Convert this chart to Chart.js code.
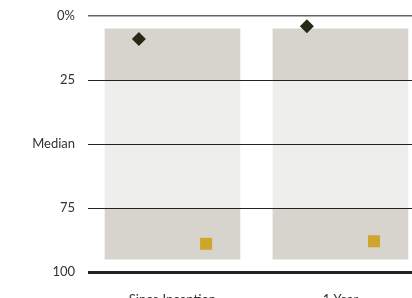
<!DOCTYPE html>
<html>
<head>
<meta charset="utf-8">
<script src="https://cdn.jsdelivr.net/npm/chart.js@4"></script>
<style>
  html, body { margin: 0; padding: 0; background: #ffffff; overflow: hidden; }
  #wrap { width: 412px; height: 298px; }
</style>
</head>
<body>
<div id="wrap"><canvas id="rank-chart"></canvas></div>
<script>
const categories = ['Since Inception', '1 Year']
const bandTop = [5, 5]
const lowerQuartile = [25, 25]
const upperQuartile = [75, 75]
const bandBottom = [95, 95]
const fundRank = [9, 4]
const benchmarkRank = [89, 88]
const yTicks = [0, 25, 50, 75, 100]
const yTickLabels = ['0%', '25', 'Median', '75', '100']

const markerShift = 0.2 // маркеры сдвинуты влево/вправо от центра столбца

Chart.defaults.font.family = 'Lato, "Open Sans", sans-serif'
Chart.defaults.font.size = 13
Chart.defaults.color = '#333333'

const band = (lo, hi) => categories.map((c, i) => ({ x: i, y: [lo[i], hi[i]] }))

const config = {
  data: {
    datasets: [
      {
        type: 'scatter',
        data: fundRank.map((v, i) => ({ x: i - markerShift, y: v })),
        pointStyle: 'rectRot',
        pointRadius: 7,
        backgroundColor: '#252a17',
        borderWidth: 0
      },
      {
        type: 'scatter',
        data: benchmarkRank.map((v, i) => ({ x: i + markerShift, y: v })),
        pointStyle: 'rect',
        pointRadius: 8.5,
        backgroundColor: '#cfa52b',
        borderWidth: 0
      },
      {
        type: 'bar',
        data: band(bandTop, lowerQuartile),
        backgroundColor: '#d7d4ce',
        grouped: false,
        barThickness: 135
      },
      {
        type: 'bar',
        data: band(lowerQuartile, upperQuartile),
        backgroundColor: '#eeeeec',
        grouped: false,
        barThickness: 135
      },
      {
        type: 'bar',
        data: band(upperQuartile, bandBottom),
        backgroundColor: '#d7d4ce',
        grouped: false,
        barThickness: 135
      }
    ]
  },
  options: {
    responsive: true,
    maintainAspectRatio: false,
    animation: false,
    events: [],
    layout: { autoPadding: false, padding: { top: 16, right: 0, left: 0, bottom: 0 } },
    plugins: {
      legend: { display: false },
      tooltip: { enabled: false }
    },
    scales: {
      x: {
        type: 'linear',
        offset: false,
        min: -0.503,
        max: 1.426,
        grid: { display: false, offset: false },
        border: { display: false },
        afterFit: function (scale) {
          scale.height = 26
          scale.paddingLeft = 0
          scale.paddingRight = 0
        },
        afterBuildTicks: function (scale) {
          scale.ticks = categories.map((c, i) => ({ value: i }))
        },
        ticks: {
          padding: 12,
          maxRotation: 0,
          autoSkip: false,
          callback: function (value) { return categories[value] }
        }
      },
      y: {
        reverse: true,
        min: 0,
        max: 100,
        border: { display: false },
        afterFit: function (scale) {
          scale.width = 88
          scale.paddingTop = 0
          scale.paddingBottom = 0
        },
        afterBuildTicks: function (scale) {
          scale.ticks = yTicks.map(v => ({ value: v }))
        },
        grid: {
          z: 1, // линии сетки поверх столбцов
          drawTicks: false,
          color: function (ctx) {
            if (ctx.tick.value === 0) return '#666666'
            return '#222222'
          },
          lineWidth: function (ctx) {
            if (ctx.tick.value === 100) return 3
            if (ctx.tick.value === 0) return 1.5
            return 1
          }
        },
        ticks: {
          padding: 13,
          callback: function (value) { return yTickLabels[yTicks.indexOf(value)] }
        }
      }
    }
  }
}

new Chart(document.getElementById('rank-chart'), config)
</script>
</body>
</html>
